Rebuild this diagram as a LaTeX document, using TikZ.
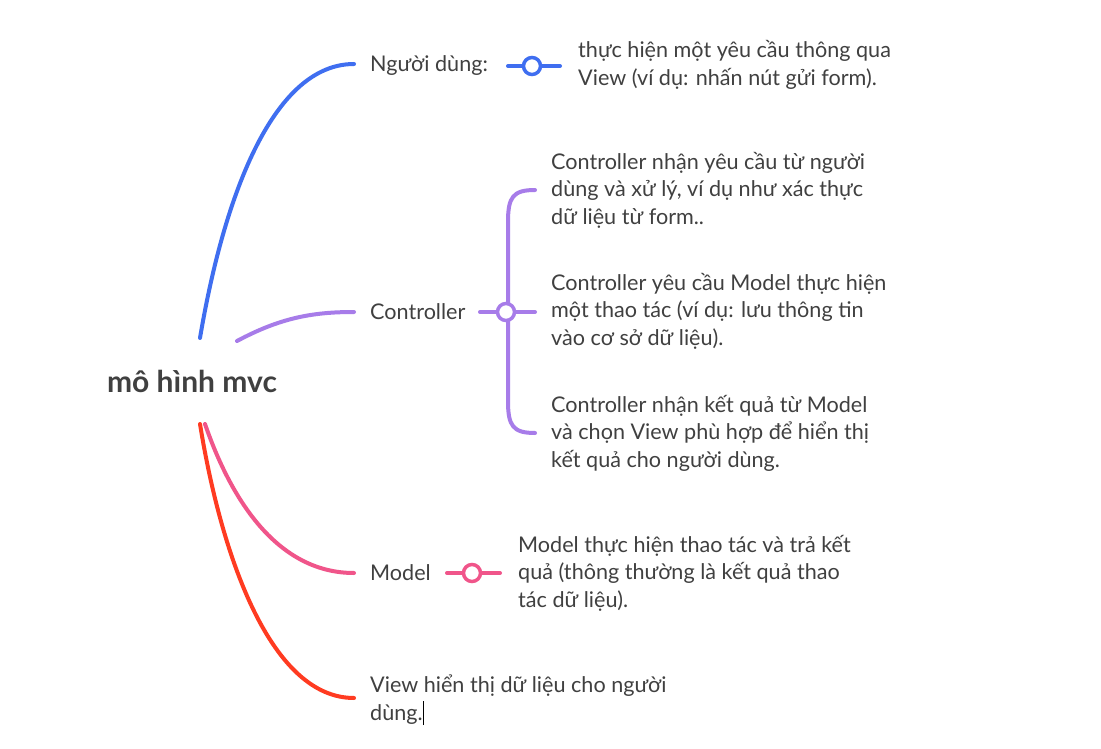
\documentclass[tikz,border=0pt]{standalone}
\usepackage{fontspec}
\setmainfont{Lato}
\definecolor{txt}{HTML}{404040}
\definecolor{cblue}{HTML}{3F6EF0}
\definecolor{cpurple}{HTML}{A77CE9}
\definecolor{cpink}{HTML}{F0558A}
\definecolor{cred}{HTML}{FF3B21}
\begin{document}
\begin{tikzpicture}[x=1pt,y=-1pt,line cap=round,
  branch/.style={line width=4pt},
  lbl/.style={anchor=west,inner sep=0pt,text=txt,font=\fontsize{21.6}{27.5}\selectfont,align=left},
  knob/.style={circle,draw,fill=white,line width=3.5pt,minimum size=17pt,inner sep=0pt}]
\useasboundingbox[fill=white] (0,0) rectangle (1101,749);
% root
\node[inner sep=0pt,text=txt,font=\fontsize{30}{34}\selectfont\bfseries] (root) at (192,381) {mô hình mvc};
% labels
\node[lbl] (user) at (370,66) {Người dùng:};
\node[lbl] (ctrl) at (370,312) {Controller};
\node[lbl] (model) at (370,573) {Model};
\node[lbl] (view) at (370,700) {View hiển thị dữ liệu cho người\\dùng.\kern0.5pt\textcolor{black}{\rule[-5pt]{0.9pt}{24pt}}};
% branch end points
\coordinate (b0) at (200,338);
\coordinate (b1) at (354,64);
\coordinate (p0) at (237,341);
\coordinate (p1) at (354,312);
\coordinate (k0) at (205,424);
\coordinate (k1) at (354,573);
\coordinate (r0) at (200,424);
\coordinate (r1) at (354,698);
\draw[branch,cblue] (b0) .. controls (225,190) and (275,64) .. (b1);
\draw[branch,cpurple] (p0) .. controls (280,318) and (312,312) .. (p1);
\draw[branch,cpink] (k0) .. controls (234,508) and (282,573) .. (k1);
\draw[branch,cred] (r0) .. controls (222,560) and (272,698) .. (r1);
% user detail
\coordinate (ua) at (508,66);
\coordinate (ub) at (560,66);
\draw[branch,cblue] (ua) -- (ub);
\node[knob,draw=cblue] (uk) at (532,66) {};
\node[lbl] (ud) at (578,65) {thực hiện một yêu cầu thông qua\\View (ví dụ: nhấn nút gửi form).};
% controller details
\coordinate (ca) at (480,312);
\coordinate (cb) at (535,312);
\coordinate (ct) at (535,190);
\coordinate (cbt) at (535,433);
\draw[branch,cpurple] (ca) -- (cb);
\draw[branch,cpurple] (ct) .. controls (513,190) and (508,197) .. (508,222) -- (508,401) .. controls (508,426) and (513,433) .. (cbt);
\node[knob,draw=cpurple] (ck) at (506,312) {};
\node[lbl] (c1) at (551,190) {Controller nhận yêu cầu từ người\\dùng và xử lý, ví dụ như xác thực\\dữ liệu từ form..};
\node[lbl] (c2) at (551,311) {Controller yêu cầu Model thực hiện\\một thao tác (ví dụ: lưu thông tin\\vào cơ sở dữ liệu).};
\node[lbl] (c3) at (551,433) {Controller nhận kết quả từ Model\\và chọn View phù hợp để hiển thị\\kết quả cho người dùng.};
% model detail
\coordinate (ma) at (447,573);
\coordinate (mb) at (500,573);
\draw[branch,cpink] (ma) -- (mb);
\node[knob,draw=cpink] (mk) at (472,573) {};
\node[lbl] (md) at (518,573) {Model thực hiện thao tác và trả kết\\quả (thông thường là kết quả thao\\tác dữ liệu).};
\end{tikzpicture}
\end{document}
